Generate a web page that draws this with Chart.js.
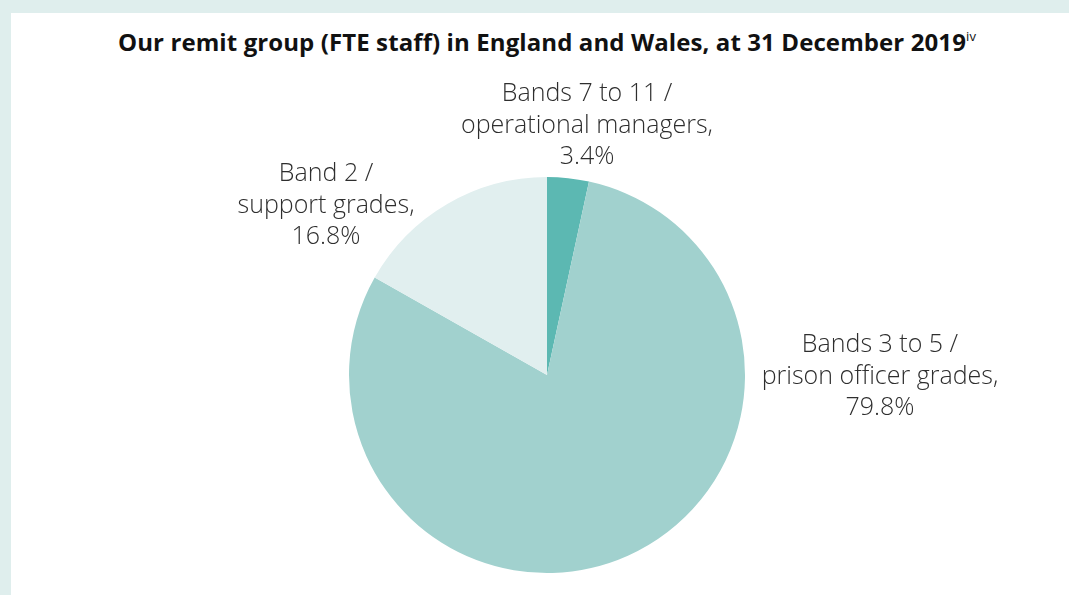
<!DOCTYPE html>
<html>
<head>
<meta charset="utf-8">
<script src="https://cdn.jsdelivr.net/npm/chart.js@4"></script>
<style>
  html, body { margin: 0; padding: 0; }
  body { width: 1069px; height: 595px; background: #dfeeed; position: relative; overflow: hidden; }
  .panel { position: absolute; left: 11px; top: 13px; right: 0; bottom: 0; background: #fff; }
  .title {
    position: absolute; left: 0; top: 25px; width: 1094px; text-align: center;
    font-family: "Open Sans", sans-serif; font-weight: 700; font-size: 24px; color: #111;
    white-space: nowrap; letter-spacing: 0.1px;
  }
  .title sup { font-size: 13px; font-weight: 400; vertical-align: 10px; }
  canvas { position: absolute; left: 0; top: 0; }
</style>
</head>
<body>
<div class="panel"></div>
<div class="title">Our remit group (FTE staff) in England and Wales, at 31 December 2019<sup>iv</sup></div>
<canvas id="pie" width="1069" height="595"></canvas>
<script>
// Share of FTE staff by band, starting at 12 o'clock and going clockwise
const bands = ["Bands 7 to 11 / operational managers", "Bands 3 to 5 / prison officer grades", "Band 2 / support grades"];
const shares = [3.4, 79.8, 16.8];
const sliceColours = ["#5cb8b2", "#a1d1ce", "#e1efef"];

// Label text lines for each slice (last line is the percentage)
const labelLines = [
    ["Bands 7 to 11 /", "operational managers,"],
    ["Bands 3 to 5 /", "prison officer grades,"],
    ["Band 2 /", "support grades,"]
];
// Where each label block sits, relative to the pie centre (x of centre line, y of first baseline)
const labelOffsets = [
    { dx: 40, dy: -274 },
    { dx: 333, dy: -23 },
    { dx: -221, dy: -194 }
];

const sliceLabels = {
    id: "sliceLabels",
    afterDatasetsDraw(chart) {
        const ctx = chart.ctx;
        const arcs = chart.getDatasetMeta(0).data;
        ctx.save();
        ctx.font = "300 25px 'Open Sans', sans-serif";
        ctx.fillStyle = "#2e2e2e";
        ctx.textAlign = "center";
        ctx.textBaseline = "alphabetic";
        arcs.forEach((arc, i) => {
            const lines = labelLines[i].concat([shares[i].toFixed(1) + "%"]);
            const x = arc.x + labelOffsets[i].dx;
            let y = arc.y + labelOffsets[i].dy;
            lines.forEach(line => {
                ctx.fillText(line, x, y);
                y += 31.5;
            });
        });
        ctx.restore();
    }
};

new Chart(document.getElementById("pie"), {
    type: "pie",
    data: {
        labels: bands,
        datasets: [{
            data: shares,
            backgroundColor: sliceColours,
            borderWidth: 0
        }]
    },
    options: {
        responsive: false,
        animation: false,
        layout: { padding: { top: 177, bottom: 22, left: 349, right: 324 } },
        plugins: {
            legend: { display: false },
            tooltip: { enabled: false }
        }
    },
    plugins: [sliceLabels]
});
</script>
</body>
</html>
